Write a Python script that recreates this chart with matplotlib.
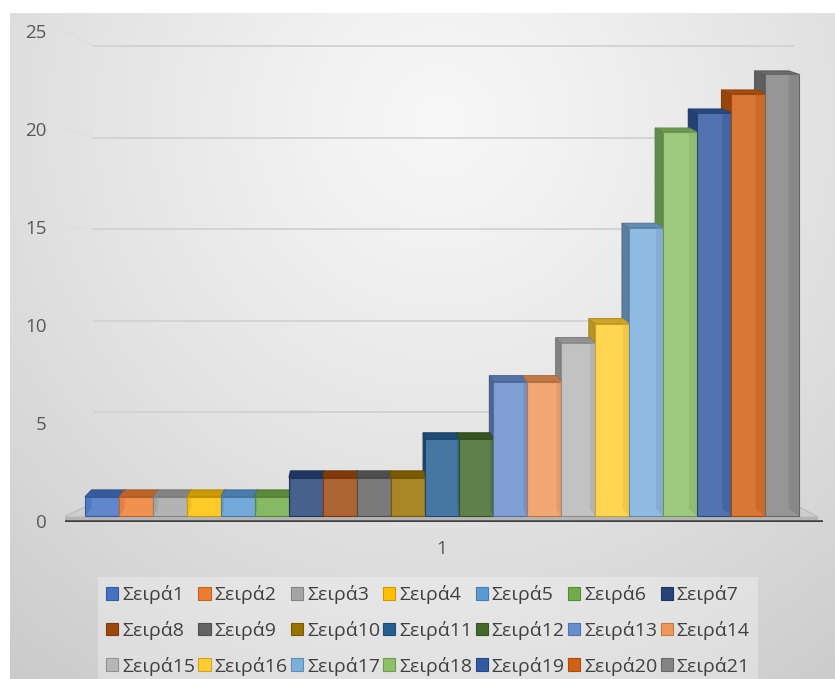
import matplotlib.pyplot as plt
import numpy as np
from matplotlib.colors import to_rgb
from matplotlib.patches import Polygon, Rectangle

# Data
series = [f"Σειρά{i}" for i in range(1, 22)]
values = [1, 1, 1, 1, 1, 1, 2, 2, 2, 2, 4, 4, 7, 7, 9, 10, 15, 20, 21, 22, 23]
colors = ["#4472C4", "#ED7D31", "#A5A5A5", "#FFC000", "#5B9BD5", "#70AD47",
          "#264478", "#9E480E", "#636363", "#997300", "#255E91", "#43682B",
          "#698ED0", "#F1975A", "#B7B7B7", "#FFCD33", "#7CAFDD", "#8CC168",
          "#335AA1", "#D26012", "#848484"]
category = "1"
yticks = [0, 5, 10, 15, 20, 25]

W, H = 835, 679
FONT = ["Open Sans", "DejaVu Sans"]
plt.rcParams['font.family'] = FONT

# pixel geometry of the fake 3D scene
BAR_X0, BAR_W = 85, 34          # left edge of first bar, bar width
BASE_Y, UNIT = 516, 19.2        # front baseline and px per unit for bars
LBL_Y0, LBL_UNIT = 521, 19.6    # front plane of the axis labels
BACK_Y0, BACK_UNIT = 503.5, 18.3  # back wall
AX_L, AX_R, AX_T, AX_B = 65, 823, 27, 522
BACK_L, BACK_R = 93, 793


def lighten(c, f):
    r = np.array(to_rgb(c))
    return tuple(r + (1 - r) * f)


def darken(c, f):
    return tuple(np.array(to_rgb(c)) * f)


fig = plt.figure(figsize=(W / 100, H / 100), dpi=100)
fig.patch.set_facecolor("white")

# background gradient of the chart area
bg = fig.add_axes([10 / W, 0, 1 - 10 / W, (H - 13) / H])
bg.set_axis_off()
yy, xx = np.mgrid[13:H, 10:W]
t = np.clip(np.hypot(xx - 440, yy - 120) / 700, 0, 1)
shade = (247 - 44 * t ** 1.2) / 255
bg.imshow(np.dstack([shade] * 3), aspect="auto", extent=(0, 1, 0, 1))

# axes for the bars (front plane)
ax = fig.add_axes([AX_L / W, 1 - AX_B / H, (AX_R - AX_L) / W, (AX_B - AX_T) / H])
ax.set_xlim((AX_L - BAR_X0) / BAR_W, (AX_R - BAR_X0) / BAR_W)
ax.set_ylim((BASE_Y - AX_B) / UNIT, (BASE_Y - AX_T) / UNIT)
ax.patch.set_alpha(0)
for s in ax.spines.values():
    s.set_visible(False)


def pd(px, py):
    return (px - BAR_X0) / BAR_W, (BASE_Y - py) / UNIT


# wall gridlines
for v in yticks:
    yb = BACK_Y0 - BACK_UNIT * v
    yf = LBL_Y0 - LBL_UNIT * v
    pts = [pd(AX_L, yf), pd(BACK_L, yb), pd(BACK_R, yb)]
    ax.plot(*zip(*pts[1:]), color="#d2d2d2", lw=1.3, zorder=1)
    ax.plot(*zip(*pts[:2]), color="#dedede", lw=1.3, zorder=1)

# floor
floor = [pd(63, 517), pd(818, 517), pd(BACK_R, BACK_Y0), pd(BACK_L, BACK_Y0)]
ax.add_patch(Polygon(floor, closed=True, fc="#cdcdcd", ec="#bdbdbd", lw=0.8, zorder=2))
ax.add_patch(Polygon([pd(63, 517), pd(818, 517), pd(818, 520), pd(63, 520)],
                     closed=True, fc="#b5b5b5", ec="none", zorder=2))
ax.plot(*zip(pd(AX_L, 521.5), pd(AX_R, 521.5)), color="#3f3f3f", lw=2.6,
        solid_capstyle="butt", zorder=3)

# bars
xs = np.arange(len(values))
bars = ax.bar(xs, values, width=1.0, align="edge",
              color=[lighten(c, 0.15) for c in colors],
              edgecolor=[darken(c, 0.78) for c in colors], linewidth=0.8, zorder=6)

for b, v, c in zip(bars, values, colors):
    xl, xr = b.get_x(), b.get_x() + b.get_width()
    xc_px = BAR_X0 + BAR_W * (xl + 0.5)
    ytop_px = BASE_Y - UNIT * v
    dx = (9.1 - 0.0249 * xc_px) / BAR_W
    dy_top = (3.5 + 0.008 * (ytop_px - 77)) / UNIT
    dy_bot = (3.5 + 0.008 * (BASE_Y - 77)) / UNIT
    top = [(xl, v), (xr, v), (xr + dx, v + dy_top), (xl + dx, v + dy_top)]
    ax.add_patch(Polygon(top, closed=True, fc=darken(c, 0.8), ec=darken(c, 0.7),
                         lw=0.8, zorder=5))
    if dx < 0:
        side = [(xl, 0), (xl, v), (xl + dx, v + dy_top), (xl + dx, dy_bot)]
        inner = [(xr + dx, dy_bot), (xr, 0), (xr, v), (xr + dx, v + dy_top)]
    else:
        side = [(xr, 0), (xr, v), (xr + dx, v + dy_top), (xr + dx, dy_bot)]
        inner = [(xl, 0), (xl + dx, dy_bot), (xl + dx, v + dy_top), (xl, v)]
    ax.add_patch(Polygon(side, closed=True, fc=darken(c, 0.72), ec=darken(c, 0.65),
                         lw=0.8, zorder=4))
    ax.add_patch(Polygon(inner, closed=True, fc=darken(c, 0.85), ec="none",
                         alpha=0.35, zorder=7))

ax.set_xticks([len(values) / 2])
ax.set_xticklabels([category])
ax.set_yticks([])
ax.tick_params(axis="x", length=0, pad=13, labelsize=13.5, labelcolor="#595959")

# label plane axes for the value ticks
lax = fig.add_axes(ax.get_position())
lax.set_ylim((LBL_Y0 - AX_B) / LBL_UNIT, (LBL_Y0 - AX_T) / LBL_UNIT)
lax.set_xlim(0, 1)
lax.patch.set_alpha(0)
for s in lax.spines.values():
    s.set_visible(False)
lax.set_xticks([])
lax.set_yticks(yticks)
lax.tick_params(axis="y", length=0, pad=13, labelsize=13.5, labelcolor="#595959")

# legend (row-major order in a 3 x 7 grid)
handles = [Rectangle((0, 0), 1, 1, fc=c, ec=darken(c, 0.8), lw=0.8) for c in colors]
ncol = 7
nrow = len(series) // ncol
order = [j + ncol * r for j in range(ncol) for r in range(nrow)]
leg = fig.legend([handles[i] for i in order], [series[i] for i in order],
                 ncol=ncol, loc="upper left", mode="expand",
                 bbox_to_anchor=(98 / W, 0, 660 / W, (H - 577) / H),
                 borderaxespad=0, frameon=True, fancybox=False,
                 handlelength=0.62, handleheight=0.62, handletextpad=0.2,
                 columnspacing=0.3, labelspacing=0.86, borderpad=0.42,
                 fontsize=14, labelcolor="#404040")
frame = leg.get_frame()
frame.set_facecolor("white")
frame.set_alpha(0.3)
frame.set_edgecolor("none")

fig.savefig("out.png", dpi=100)
